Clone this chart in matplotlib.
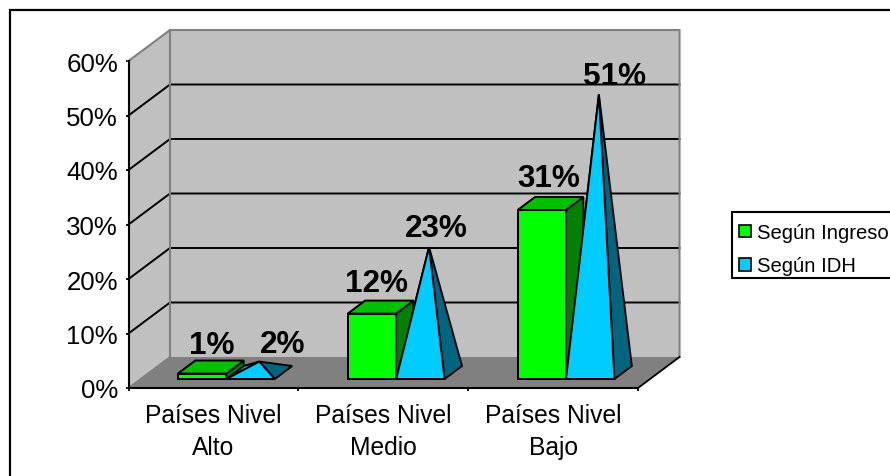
#!/usr/bin/env python3
# -*- coding: utf-8 -*-

import matplotlib
matplotlib.use("Agg")
import matplotlib.pyplot as plt
from matplotlib.patches import Patch, Polygon, Rectangle
import numpy as np

categories = ["Países Nivel\nAlto", "Países Nivel\nMedio", "Países Nivel\nBajo"]
series_names = ["Según Ingreso", "Según IDH"]
ingreso = [1, 12, 31]
idh = [2, 23, 51]
y_ticks = [0, 10, 20, 30, 40, 50, 60]

W, H = 890, 477
AX_L, AX_R, AX_B, AX_T = 128.5, 638, 389, 62

# depth of the 3D box, in data units
DX = 41.5 / ((AX_R - AX_L) / 3)
DY = 31 / ((AX_B - AX_T) / 60)
BAR_W = 0.285
BAR_LEFT = 0.22
D0, D1 = 0.29, 0.71

GREEN = ("#00FF00", "#008000", "#00C000")
BLUE = ("#00CCFF", "#006680")
WALL = "#C0C0C0"
FLOOR = "#808080"

# label offsets from the top of each mark, pixels
ingreso_off = [(10, 21), (5, 23), (7, 24)]
idh_off = [(23, 10), (7, 11), (16, 11)]

plt.rcParams["font.family"] = ["Liberation Sans", "DejaVu Sans"]


def pr(x, v, d):
    # front-plane coordinates of a point at depth d
    return (x + d * DX, v + d * DY)


def poly(ax, pts, color, z, lw=1.4, edge="black"):
    ax.add_patch(Polygon(pts, closed=True, facecolor=color, edgecolor=edge, linewidth=lw,
                         joinstyle="miter", clip_on=False, zorder=z))


fig = plt.figure(figsize=(W / 100, H / 100), dpi=100)
ax = fig.add_axes([AX_L / W, 1 - AX_B / H, (AX_R - AX_L) / W, (AX_B - AX_T) / H])
ax.set_xlim(0, 3)
ax.set_ylim(0, 60)
ax.patch.set_visible(False)

# chart outline
fig.add_artist(Rectangle((10 / W, -0.1), 1.2, 1.1 - 10.5 / H, transform=fig.transFigure,
                         facecolor="none", edgecolor="black", linewidth=1.6))

# walls and floor
top = y_ticks[-1]
poly(ax, [(0, 0), (0, top), pr(0, top, 1), pr(0, 0, 1)], WALL, 1, edge="none", lw=0)
poly(ax, [pr(0, 0, 1), pr(0, top, 1), pr(3, top, 1), pr(3, 0, 1)], WALL, 1, edge="none", lw=0)
poly(ax, [(0, 0), (3, 0), pr(3, 0, 1), pr(0, 0, 1)], FLOOR, 1, edge="none", lw=0)

for v in y_ticks[1:-1]:
    xs, ys = zip((0, v), pr(0, v, 1), pr(3, v, 1))
    ax.plot(xs, ys, color="black", lw=1.4, clip_on=False, zorder=2)

xs, ys = zip((0, top), pr(0, top, 1), pr(3, top, 1), pr(3, 0, 1))
ax.plot(xs, ys, color="#808080", lw=1.5, clip_on=False, zorder=2, solid_joinstyle="miter")
xs, ys = zip(pr(0, top, 1), pr(0, 0, 1))
ax.plot(xs, ys, color="#808080", lw=1.5, clip_on=False, zorder=2)
xs, ys = zip((0, 0), pr(0, 0, 1))
ax.plot(xs, ys, color="#808080", lw=1.3, clip_on=False, zorder=2)
xs, ys = zip((3, 0), pr(3, 0, 1))
ax.plot(xs, ys, color="black", lw=1.3, clip_on=False, zorder=2)

for i in range(len(categories)):
    x0 = i + BAR_LEFT
    x1 = x0 + BAR_W
    x2 = x1 + BAR_W

    # pyramid back face, hidden behind the box where they overlap
    v = idh[i]
    apex = pr((x1 + x2) / 2, v, 0.5)
    poly(ax, [pr(x1, 0, D0), pr(x1, 0, D1), apex], BLUE[0], 3)

    # box
    h = ingreso[i]
    poly(ax, [pr(x0, 0, D0), pr(x1, 0, D0), pr(x1, h, D0), pr(x0, h, D0)], GREEN[0], 4)
    poly(ax, [pr(x1, 0, D0), pr(x1, 0, D1), pr(x1, h, D1), pr(x1, h, D0)], GREEN[1], 4)
    poly(ax, [pr(x0, h, D0), pr(x1, h, D0), pr(x1, h, D1), pr(x0, h, D1)], GREEN[2], 4)

    # pyramid front and side
    poly(ax, [pr(x2, 0, D0), pr(x2, 0, D1), apex], BLUE[1], 5)
    poly(ax, [pr(x1, 0, D0), pr(x2, 0, D0), apex], BLUE[0], 5)

    ax.annotate("%d%%" % h, xy=pr((x0 + x1) / 2, h, D0), xytext=ingreso_off[i], textcoords="offset pixels",
                ha="center", va="baseline", fontsize=22.7, fontweight="bold", color="black",
                annotation_clip=False, zorder=7)
    ax.annotate("%d%%" % v, xy=apex, xytext=idh_off[i], textcoords="offset pixels",
                ha="center", va="baseline", fontsize=22.7, fontweight="bold", color="black",
                annotation_clip=False, zorder=7)

# axes
for side in ["top", "right"]:
    ax.spines[side].set_visible(False)
for side in ["left", "bottom"]:
    ax.spines[side].set_linewidth(1.5)
    ax.spines[side].set_zorder(6)
ax.set_yticks(y_ticks)
ax.set_yticklabels(["%d%%" % v for v in y_ticks], fontsize=18.6)
ax.set_xticks(range(len(categories) + 1))
ax.set_xticklabels([])
ax.set_xticks(np.arange(len(categories)) + 0.5, minor=True)
ax.set_xticklabels(categories, minor=True, fontsize=17.7, linespacing=1.45)
ax.tick_params(axis="y", length=2.2, width=1.3, pad=5.3)
ax.tick_params(axis="x", which="major", length=2.5, width=1.3)
ax.tick_params(axis="x", which="minor", length=0, pad=10.5)

# legend box runs past the right edge of the figure
fig.add_artist(Rectangle((732 / W, 1 - 279 / H), 200 / W, 66 / H, transform=fig.transFigure,
                         facecolor="white", edgecolor="black", linewidth=1.5))
handles = [Patch(facecolor=GREEN[0], edgecolor="black", linewidth=1.2, label=series_names[0]),
           Patch(facecolor=BLUE[0], edgecolor="black", linewidth=1.2, label=series_names[1])]
leg = fig.legend(handles=handles, loc="upper left", bbox_to_anchor=(731 / W, 1 - 216 / H),
                 fontsize=14.6, frameon=False, borderaxespad=0, handlelength=0.6, handleheight=0.6,
                 handletextpad=0.28, borderpad=0.4, labelspacing=0.7)

fig.savefig("out.png", dpi=100)
